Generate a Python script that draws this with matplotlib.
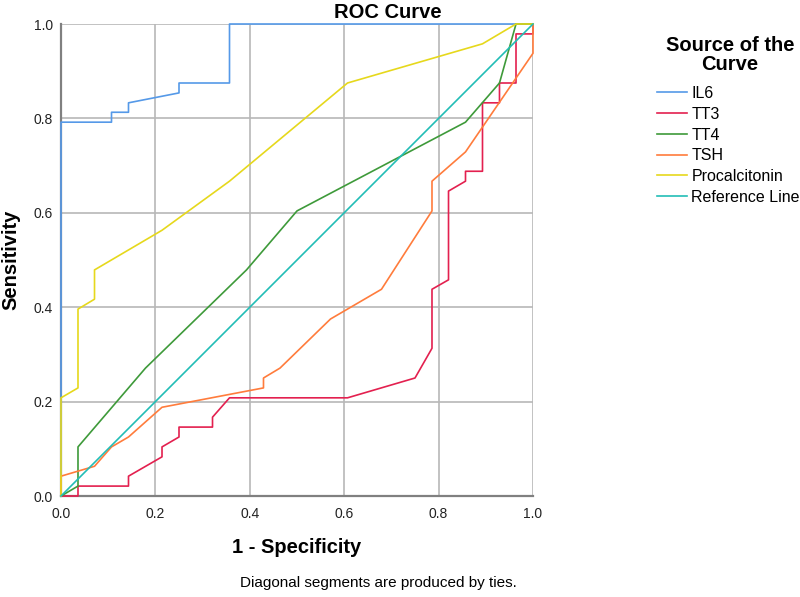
import matplotlib
matplotlib.use("Agg")
import matplotlib.pyplot as plt

plt.rcParams['font.family'] = ['Liberation Sans', 'DejaVu Sans']

# ROC curve points (1 - specificity, sensitivity)
il6_x = [0, 0, 0.107, 0.107, 0.143, 0.143, 0.25, 0.25, 0.357, 0.357, 1.0]
il6_y = [0, 0.792, 0.792, 0.813, 0.813, 0.833, 0.854, 0.875, 0.875, 1.0, 1.0]

tt3_x = [0, 0.036, 0.036, 0.143, 0.143, 0.214, 0.214, 0.25, 0.25, 0.321, 0.321, 0.357,
         0.607, 0.75, 0.786, 0.786, 0.821, 0.821, 0.857, 0.857, 0.893, 0.893, 0.929,
         0.929, 0.964, 0.964, 1.0, 1.0]
tt3_y = [0, 0, 0.021, 0.021, 0.042, 0.083, 0.104, 0.125, 0.146, 0.146, 0.167, 0.208,
         0.208, 0.25, 0.313, 0.438, 0.458, 0.646, 0.667, 0.688, 0.688, 0.833, 0.833,
         0.875, 0.875, 0.979, 0.979, 1.0]

tt4_x = [0, 0.036, 0.036, 0.179, 0.393, 0.5, 0.857, 0.929, 0.964, 1.0]
tt4_y = [0, 0.021, 0.104, 0.271, 0.479, 0.604, 0.792, 0.875, 1.0, 1.0]

tsh_x = [0, 0, 0.071, 0.107, 0.143, 0.214, 0.429, 0.429, 0.464, 0.571, 0.679, 0.786,
         0.786, 0.857, 1.0, 1.0]
tsh_y = [0, 0.042, 0.063, 0.104, 0.125, 0.188, 0.229, 0.25, 0.271, 0.375, 0.438, 0.604,
         0.667, 0.729, 0.938, 1.0]

pct_x = [0, 0, 0.036, 0.036, 0.071, 0.071, 0.214, 0.357, 0.607, 0.893, 0.964, 1.0]
pct_y = [0, 0.208, 0.229, 0.396, 0.417, 0.479, 0.563, 0.667, 0.875, 0.958, 1.0, 1.0]

ref_x = [0, 1]
ref_y = [0, 1]

labels = ["IL6", "TT3", "TT4", "TSH", "Procalcitonin", "Reference Line"]
colors = ["#5599e8", "#e3204f", "#3e9a3a", "#ff7c3c", "#e6d81c", "#22bdb6"]
series = [(il6_x, il6_y), (tt3_x, tt3_y), (tt4_x, tt4_y),
          (tsh_x, tsh_y), (pct_x, pct_y), (ref_x, ref_y)]

fig = plt.figure(figsize=(8, 5.97), dpi=100)
ax = fig.add_axes([61 / 800, 101 / 597, 472 / 800, 472 / 597])

for (xs, ys), lab, c in zip(series, labels, colors):
    ax.plot(xs, ys, color=c, lw=1.2, label=lab, zorder=3, clip_on=False)

ax.set_xlim(0, 1)
ax.set_ylim(0, 1)
ticks = [0, 0.2, 0.4, 0.6, 0.8, 1.0]
ax.set_xticks(ticks)
ax.set_yticks(ticks)
ax.set_xticklabels([f"{t:.1f}" for t in ticks])
ax.set_yticklabels([f"{t:.1f}" for t in ticks])
ax.tick_params(length=0, labelsize=10, colors="#222222")
ax.tick_params(axis="x", pad=8)
ax.tick_params(axis="y", pad=6)
ax.grid(True, color="#b8b8b8", lw=1.2)
ax.set_axisbelow(True)
for s in ["top", "right"]:
    ax.spines[s].set_visible(False)
for s in ["left", "bottom"]:
    ax.spines[s].set_color("#808080")
    ax.spines[s].set_linewidth(1.6)
    ax.spines[s].set_zorder(2)

ax.set_xlabel("1 - Specificity", fontsize=14.5, fontweight="bold")
ax.set_ylabel("Sensitivity", fontsize=14.5, fontweight="bold")
ax.xaxis.set_label_coords(0.5, -0.088)
ax.yaxis.set_label_coords(-0.086, 0.5)

fig.text(388 / 800, 1 - 13 / 597, "ROC Curve", fontsize=14.5, fontweight="bold",
         ha="center", va="center")
fig.text(240 / 800, 1 - 583 / 597, "Diagonal segments are produced by ties.",
         fontsize=11, ha="left", va="center")

# legend title drawn on its own so the gap to the entries matches
fig.text(730 / 800, 1 - 55 / 597, "Source of the\nCurve", fontsize=14.5,
         fontweight="bold", ha="center", va="center", multialignment="center",
         linespacing=1.05)
fig.legend(loc="upper left", bbox_to_anchor=(657 / 800, 1 - 86 / 597),
           frameon=False, fontsize=11.5, handlelength=1.9, handletextpad=0.25,
           labelspacing=0.36, borderpad=0, borderaxespad=0)

fig.savefig("out.png", dpi=100)
